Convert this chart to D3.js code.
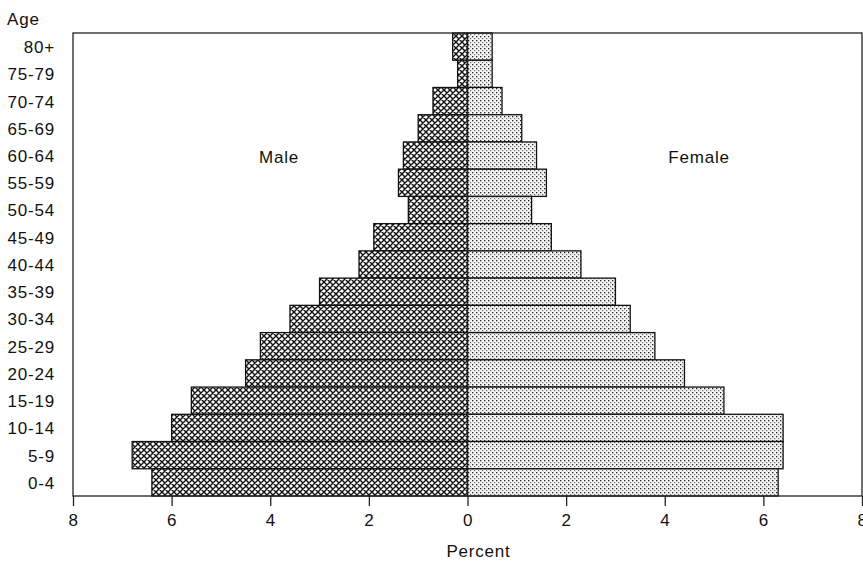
<!DOCTYPE html>
<html>
  <head>
    <style>
      html,
      body {
        margin: 0;
        padding: 0;
        background: #fff;
      }
      svg {
        display: block;
        font-family: 'Liberation Sans', Arial, sans-serif;
      }
      text {
        letter-spacing: 0.8px;
      }
    </style>
  </head>
  <body>
    <svg width="863" height="562"></svg>
    <script src="https://cdn.jsdelivr.net/npm/d3@7/dist/d3.min.js"></script>
    <script>
      // age groups, top to bottom
      const ages = ['80+', '75-79', '70-74', '65-69', '60-64', '55-59', '50-54', '45-49',
        '40-44', '35-39', '30-34', '25-29', '20-24', '15-19', '10-14', '5-9', '0-4'];
      const male = [0.3, 0.2, 0.7, 1.0, 1.3, 1.4, 1.2, 1.9, 2.2, 3.0, 3.6, 4.2, 4.5, 5.6, 6.0, 6.8, 6.4];
      const female = [0.5, 0.5, 0.7, 1.1, 1.4, 1.6, 1.3, 1.7, 2.3, 3.0, 3.3, 3.8, 4.4, 5.2, 6.4, 6.4, 6.3];
      const xTicks = [-8, -6, -4, -2, 0, 2, 4, 6, 8];

      const svg = d3.select('svg');
      const plotL = 73, plotR = 862, plotT = 33, plotB = 496;
      const fs = 17;

      const x = d3.scaleLinear().domain([-8, 8]).range([plotL, plotR]);
      const y = d3.scaleBand().domain(ages).range([plotT, plotB]).padding(0);

      // fill patterns: cross hatch for male, stipple for female
      const defs = svg.append('defs');
      const hatch = defs.append('pattern')
        .attr('id', 'hatch')
        .attr('patternUnits', 'userSpaceOnUse')
        .attr('width', 6).attr('height', 6);
      hatch.append('rect').attr('width', 6).attr('height', 6).attr('fill', '#fff');
      hatch.append('path')
        .attr('d', 'M0,0L6,6M6,0L0,6M-1,5L1,7M5,-1L7,1M-1,1L1,-1M5,7L7,5')
        .attr('stroke', '#111').attr('stroke-width', 1.4).attr('fill', 'none');

      const dots = defs.append('pattern')
        .attr('id', 'dots')
        .attr('patternUnits', 'userSpaceOnUse')
        .attr('width', 4).attr('height', 4);
      dots.append('rect').attr('width', 4).attr('height', 4).attr('fill', '#f4f4f4');
      dots.append('rect').attr('x', 0).attr('y', 0).attr('width', 1.3).attr('height', 1.3).attr('fill', '#222');
      dots.append('rect').attr('x', 2).attr('y', 2).attr('width', 1.2).attr('height', 1.2).attr('fill', '#666');

      // bars
      svg.append('g').selectAll('rect')
        .data(ages)
        .join('rect')
        .attr('x', (d, i) => x(-male[i]))
        .attr('y', d => y(d))
        .attr('width', (d, i) => x(0) - x(-male[i]))
        .attr('height', y.bandwidth())
        .attr('fill', 'url(#hatch)')
        .attr('stroke', '#111').attr('stroke-width', 1.3);

      svg.append('g').selectAll('rect')
        .data(ages)
        .join('rect')
        .attr('x', x(0))
        .attr('y', d => y(d))
        .attr('width', (d, i) => x(female[i]) - x(0))
        .attr('height', y.bandwidth())
        .attr('fill', 'url(#dots)')
        .attr('stroke', '#111').attr('stroke-width', 1.3);

      // frame
      svg.append('rect')
        .attr('x', plotL).attr('y', plotT)
        .attr('width', plotR - plotL).attr('height', plotB - plotT)
        .attr('fill', 'none').attr('stroke', '#222').attr('stroke-width', 1.3);

      svg.append('line')
        .attr('x1', x(0)).attr('x2', x(0)).attr('y1', plotT).attr('y2', plotB)
        .attr('stroke', '#222').attr('stroke-width', 1.3);

      // x axis
      const xAxis = svg.append('g')
        .attr('transform', `translate(0,${plotB})`)
        .call(d3.axisBottom(x).tickValues(xTicks).tickFormat(d => Math.abs(d)).tickSize(10).tickSizeOuter(0).tickPadding(8));
      xAxis.select('.domain').remove();
      xAxis.selectAll('line').attr('stroke', '#222').attr('stroke-width', 1.3);
      xAxis.selectAll('text').attr('font-size', fs).attr('fill', '#111');

      // y axis labels
      const yAxis = svg.append('g')
        .attr('transform', `translate(${plotL},0)`)
        .call(d3.axisLeft(y).tickSize(0).tickPadding(18));
      yAxis.select('.domain').remove();
      yAxis.selectAll('text').attr('font-size', fs).attr('fill', '#111').attr('dy', '0.38em');

      svg.append('text').attr('x', 7).attr('y', 25).attr('font-size', fs).attr('fill', '#111').text('Age');
      svg.append('text').attr('x', x(0) + 11).attr('y', 557).attr('text-anchor', 'middle')
        .attr('font-size', fs).attr('fill', '#111').text('Percent');
      svg.append('text').attr('x', 279).attr('y', 163).attr('text-anchor', 'middle')
        .attr('font-size', fs).attr('fill', '#111').text('Male');
      svg.append('text').attr('x', 699).attr('y', 163).attr('text-anchor', 'middle')
        .attr('font-size', fs).attr('fill', '#111').text('Female');
    </script>
  </body>
</html>
